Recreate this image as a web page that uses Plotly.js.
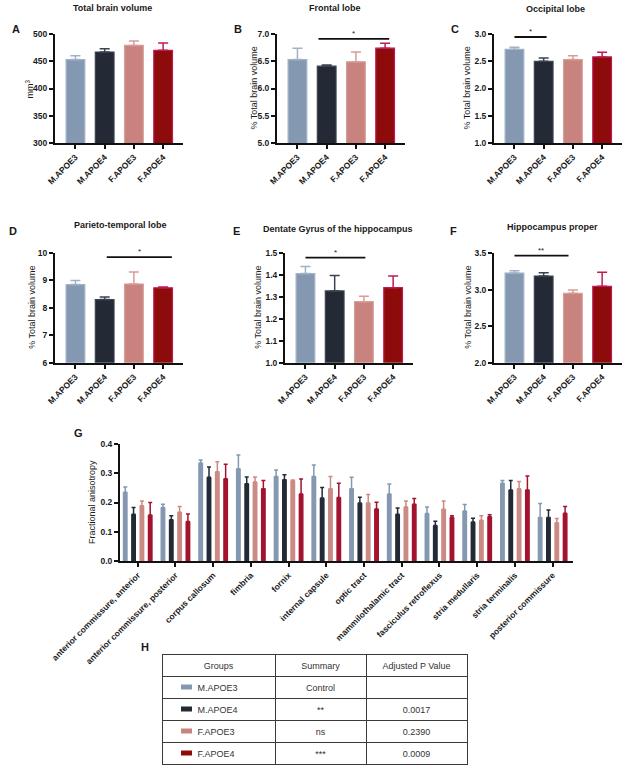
<!DOCTYPE html>
<html>
<head>
<meta charset="utf-8">
<script src="https://cdn.plot.ly/plotly-3.0.1.min.js"></script>
<style>html,body{margin:0;padding:0;background:#fff;}#chart{width:625px;height:768px;}</style>
</head>
<body>
<div id="chart"></div>
<script>
// ---------- DATA ----------
const groups = ['M.APOE3', 'M.APOE4', 'F.APOE3', 'F.APOE4'];

const totalMean = [453, 467, 479, 470];
const totalErr = [7, 6, 8, 13.5];

const frontalMean = [6.53, 6.41, 6.49, 6.74];
const frontalErr = [0.21, 0.02, 0.18, 0.09];

const occipitalMean = [2.72, 2.50, 2.53, 2.58];
const occipitalErr = [0.035, 0.06, 0.07, 0.085];

const parietoMean = [8.85, 8.30, 8.87, 8.73];
const parietoErr = [0.15, 0.10, 0.44, 0.03];

const dentateMean = [1.406, 1.327, 1.278, 1.342];
const dentateErr = [0.033, 0.071, 0.025, 0.053];

const hippoMean = [3.226, 3.185, 2.948, 3.044];
const hippoErr = [0.032, 0.045, 0.046, 0.192];

// significance brackets: [from index, to index, y value, label]
const sigFrontal = [0.72, 3.14, 6.91, '*'];
const sigOccipital = [0.0, 1.1, 2.945, '*'];
const sigParieto = [1.07, 3.3, 9.85, '*'];
const sigDentate = [0.0, 2.05, 1.479, '*'];
const sigHippo = [0.0, 1.85, 3.464, '**'];

const tracts = ['anterior commissure, anterior', 'anterior commissure, posterior', 'corpus callosum', 'fimbria', 'fornix',
  'internal capsule', 'optic tract', 'mammilothalamic tract', 'fasciculus retroflexus', 'stria medullaris',
  'stria terminalis', 'posterior commissure'];
const faM_APOE3 = [0.235, 0.183, 0.335, 0.315, 0.289, 0.289, 0.247, 0.229, 0.162, 0.171, 0.266, 0.149];
const faM_APOE3err = [0.018, 0.011, 0.010, 0.047, 0.022, 0.039, 0.039, 0.034, 0.023, 0.022, 0.009, 0.048];
const faM_APOE4 = [0.160, 0.141, 0.286, 0.264, 0.278, 0.215, 0.198, 0.160, 0.121, 0.133, 0.243, 0.149];
const faM_APOE4err = [0.023, 0.014, 0.035, 0.023, 0.017, 0.036, 0.020, 0.021, 0.015, 0.013, 0.032, 0.025];
const faF_APOE3 = [0.189, 0.167, 0.305, 0.270, 0.275, 0.247, 0.198, 0.185, 0.177, 0.139, 0.247, 0.131];
const faF_APOE3err = [0.016, 0.019, 0.034, 0.017, 0.002, 0.042, 0.029, 0.020, 0.028, 0.016, 0.025, 0.014];
const faF_APOE4 = [0.157, 0.135, 0.281, 0.247, 0.229, 0.217, 0.178, 0.194, 0.149, 0.151, 0.243, 0.163];
const faF_APOE4err = [0.043, 0.026, 0.050, 0.028, 0.051, 0.049, 0.023, 0.020, 0.006, 0.007, 0.048, 0.023];

const tableHeader = ['Groups', 'Summary', 'Adjusted P Value'];
const tableSummary = ['Control', '**', 'ns', '***'];
const tablePValue = ['\u00a0', '0.0017', '0.2390', '0.0009'];

// ---------- STYLE ----------
const FONT = '"Liberation Sans", Arial, Helvetica, sans-serif';
const fillColors = ['#8598b1', '#232a36', '#c8837e', '#8e0b0b'];
const edgeColors = ['#a2b2c6', '#3b4250', '#d69d99', '#c01a55'];
const faColors = ['#8598b1', '#232a36', '#cc8a84', '#a3132f'];
const W = 625, H = 768;
const px = x => x / W;
const py = y => 1 - y / H;

const panels = [
  {letter: 'A', title: 'Total brain volume', mean: totalMean, err: totalErr, yr: [300, 500], dt: 50, fmt: 'd', yt: 'mm<sup>3</sup>',
   dx: [55, 183], dy: [34, 143], tpos: [112, 8], lpos: [10, 29], ytx: 29, sig: null},
  {letter: 'B', title: 'Frontal lobe', mean: frontalMean, err: frontalErr, yr: [5, 7], dt: 0.5, fmt: '.1f', yt: '% Total brain volume',
   dx: [277, 405], dy: [34, 143], tpos: [335, 8], lpos: [232, 29], ytx: 253, sig: sigFrontal},
  {letter: 'C', title: 'Occipital lobe', mean: occipitalMean, err: occipitalErr, yr: [1, 3], dt: 0.5, fmt: '.1f', yt: '% Total brain volume',
   dx: [494, 622], dy: [34, 143], tpos: [555, 9], lpos: [449, 29], ytx: 466, sig: sigOccipital},
  {letter: 'D', title: 'Parieto-temporal lobe', mean: parietoMean, err: parietoErr, yr: [6, 10], dt: 1, fmt: 'd', yt: '% Total brain volume',
   dx: [55, 183], dy: [253, 362.7], tpos: [120, 225], lpos: [7, 231], ytx: 32, sig: sigParieto},
  {letter: 'E', title: 'Dentate Gyrus of the hippocampus', mean: dentateMean, err: dentateErr, yr: [1, 1.5], dt: 0.1, fmt: '.1f', yt: '% Total brain volume',
   dx: [285, 413], dy: [253, 362.7], tpos: [338, 229], lpos: [231, 231], ytx: 258, sig: sigDentate},
  {letter: 'F', title: 'Hippocampus proper', mean: hippoMean, err: hippoErr, yr: [2, 3.5], dt: 0.5, fmt: '.1f', yt: '% Total brain volume',
   dx: [494, 622], dy: [253, 362.7], tpos: [552, 227], lpos: [448, 231], ytx: 468, sig: sigHippo}
];

const tickFont = {family: FONT, size: 8.5, color: '#1a1a1a', weight: 'bold'};
const axisBase = {showline: true, linewidth: 2, linecolor: '#111', ticks: 'outside', ticklen: 4, tickwidth: 2, tickcolor: '#111',
  showgrid: false, zeroline: false, tickfont: tickFont, fixedrange: true};
const ytitleFont = {family: FONT, size: 9, color: '#1a1a1a'};

const data = [];
const layout = {
  width: W, height: H, margin: {l: 0, r: 0, t: 0, b: 0}, paper_bgcolor: '#fff', plot_bgcolor: 'rgba(0,0,0,0)',
  showlegend: false, font: {family: FONT, color: '#1a1a1a'}, annotations: [], shapes: []
};

panels.forEach((p, i) => {
  const n = i + 1;
  const xa = 'x' + (n === 1 ? '' : n), ya = 'y' + (n === 1 ? '' : n);
  const xk = 'xaxis' + (n === 1 ? '' : n), yk = 'yaxis' + (n === 1 ? '' : n);
  groups.forEach((g, k) => {
    data.push({type: 'bar', x: [g], y: [p.mean[k]], xaxis: xa, yaxis: ya, width: 0.64, offset: -0.32,
      marker: {color: fillColors[k], line: {color: edgeColors[k], width: 1.2}},
      error_y: {type: 'data', array: [p.err[k]], arrayminus: [0], symmetric: false, color: edgeColors[k], thickness: 1.5, width: 5},
      hoverinfo: 'skip'});
  });
  layout[xk] = Object.assign({}, axisBase, {domain: [px(p.dx[0]), px(p.dx[1])], anchor: ya, type: 'category',
    categoryorder: 'array', categoryarray: groups, range: [-0.7, 3.68], tickangle: -45});
  layout[yk] = Object.assign({}, axisBase, {domain: [py(p.dy[1]), py(p.dy[0])], anchor: xa, range: p.yr, dtick: p.dt, tick0: p.yr[0],
    tickformat: p.fmt});
  layout.annotations.push({xref: 'paper', yref: 'paper', x: px(p.ytx), y: py((p.dy[0] + p.dy[1]) / 2), text: p.yt, textangle: -90,
    showarrow: false, xanchor: 'center', yanchor: 'middle', font: ytitleFont});
  layout.annotations.push({xref: 'paper', yref: 'paper', x: px(p.tpos[0]), y: py(p.tpos[1]), text: p.title, showarrow: false,
    xanchor: 'center', yanchor: 'middle', font: {family: FONT, size: 9, weight: 'bold', color: '#1a1a1a'}});
  layout.annotations.push({xref: 'paper', yref: 'paper', x: px(p.lpos[0]), y: py(p.lpos[1]), text: p.letter, showarrow: false,
    xanchor: 'left', yanchor: 'middle', font: {family: FONT, size: 11, weight: 'bold', color: '#1a1a1a'}});
  if (p.sig) {
    layout.shapes.push({type: 'line', xref: xa, yref: ya, x0: p.sig[0], x1: p.sig[1], y0: p.sig[2], y1: p.sig[2],
      line: {color: '#111', width: 1.8}});
    layout.annotations.push({xref: xa, yref: ya, x: (p.sig[0] + p.sig[1]) / 2, y: p.sig[2], text: p.sig[3], showarrow: false,
      xanchor: 'center', yanchor: 'bottom', yshift: -1, font: {family: FONT, size: 8, color: '#1a1a1a'}});
  }
});

// ---------- Panel G ----------
const faMeans = [faM_APOE3, faM_APOE4, faF_APOE3, faF_APOE4];
const faErrs = [faM_APOE3err, faM_APOE4err, faF_APOE3err, faF_APOE4err];
const gStep = 0.2207, gWidth = 0.13;
faMeans.forEach((m, k) => {
  data.push({type: 'bar', x: tracts, y: m, xaxis: 'x7', yaxis: 'y7', width: gWidth,
    offset: (k - 1.5) * gStep - gWidth / 2, name: groups[k],
    marker: {color: faColors[k], line: {width: 0}},
    error_y: {type: 'data', array: faErrs[k], arrayminus: m.map(() => 0), symmetric: false, color: faColors[k], thickness: 1.5, width: 2},
    hoverinfo: 'skip'});
});
layout.xaxis7 = Object.assign({}, axisBase, {domain: [px(120), px(573)], anchor: 'y7', type: 'category', categoryorder: 'array',
  categoryarray: tracts, range: [-0.47, 11.54], tickangle: -45, tickfont: {family: FONT, size: 8.5, color: '#1a1a1a', weight: 'bold'}});
layout.yaxis7 = Object.assign({}, axisBase, {domain: [py(561), py(444)], anchor: 'x7', range: [0, 0.4], dtick: 0.1, tickformat: '.1f'});
layout.annotations.push({xref: 'paper', yref: 'paper', x: px(92), y: py(502), text: 'Fractional anisotropy', textangle: -90,
  showarrow: false, xanchor: 'center', yanchor: 'middle', font: ytitleFont});
layout.annotations.push({xref: 'paper', yref: 'paper', x: px(72), y: py(433), text: 'G', showarrow: false, xanchor: 'left', yanchor: 'middle',
  font: {family: FONT, size: 11, weight: 'bold', color: '#1a1a1a'}});

// ---------- Table H ----------
const tblX = [162, 467], tblTop = 654, rowH = 22;
const pad = '\u00a0'.repeat(11);
data.push({type: 'table', domain: {x: [px(tblX[0]), px(tblX[1])], y: [py(tblTop + rowH * 5 + 2), py(tblTop)]},
  columnwidth: [113, 91, 101],
  header: {values: tableHeader, align: 'center', height: rowH, line: {color: '#3a3a3a', width: 1}, fill: {color: '#fff'},
    font: {family: FONT, size: 9, color: '#333'}},
  cells: {values: [groups.map(g => pad + g), tableSummary, tablePValue], align: ['left', 'center', 'center'], height: rowH,
    line: {color: '#3a3a3a', width: 1}, fill: {color: '#fff'}, font: {family: FONT, size: 9, color: '#333'}}
});
groups.forEach((g, k) => {
  const yc = tblTop + rowH * (k + 1) + rowH / 2;
  layout.shapes.push({type: 'rect', xref: 'paper', yref: 'paper', x0: px(181), x1: px(192), y0: py(yc + 2.5), y1: py(yc - 2.5),
    fillcolor: fillColors[k], line: {width: 0}, layer: 'above'});
});
layout.annotations.push({xref: 'paper', yref: 'paper', x: px(139), y: py(647), text: 'H', showarrow: false, xanchor: 'left', yanchor: 'middle',
  font: {family: FONT, size: 11, weight: 'bold', color: '#1a1a1a'}});

Plotly.newPlot('chart', data, layout, {staticPlot: true, displayModeBar: false});
</script>
</body>
</html>
